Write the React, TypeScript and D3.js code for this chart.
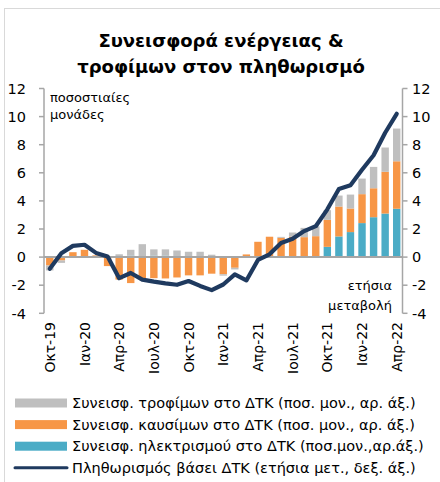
import React from "react";
import * as d3 from "d3";

const months = [
  "Οκτ-19","Νοε-19","Δεκ-19","Ιαν-20","Φεβ-20","Μαρ-20","Απρ-20","Μαϊ-20","Ιουν-20","Ιουλ-20","Αυγ-20","Σεπ-20",
  "Οκτ-20","Νοε-20","Δεκ-20","Ιαν-21","Φεβ-21","Μαρ-21","Απρ-21","Μαϊ-21","Ιουν-21","Ιουλ-21","Αυγ-21","Σεπ-21",
  "Οκτ-21","Νοε-21","Δεκ-21","Ιαν-22","Φεβ-22","Μαρ-22","Απρ-22",
];
const electricity = [0,0,0,0,0,0,0,0.1,0.07,0.1,0.1,0,0,0,0,0,0,0,0,0,0,0,0,0,0.73,1.47,1.78,2.42,2.84,3.1,3.44];
const fuels = [-0.6,-0.24,0.35,0.52,0.12,-0.64,-1.6,-1.85,-1.5,-1.5,-1.52,-1.45,-1.3,-1.3,-1.18,-1.22,-0.76,0.19,1.09,1.45,1.37,1.45,1.42,1.49,1.92,2.13,1.68,2.06,2.06,2.97,3.38];
const food = [-0.35,-0.17,0,0,0,0,0.2,0.42,0.85,0.45,0.45,0.47,0.38,0.38,0.17,-0.1,-0.12,0,0,0,0.07,0.3,0.66,0.7,0.69,0.78,0.99,1.11,1.52,1.73,2.33];
const inflation = [-0.83,0.28,0.8,0.88,0.3,0.05,-1.5,-1.13,-1.6,-1.75,-1.87,-1.97,-1.7,-2.05,-2.35,-1.95,-1.23,-1.66,-0.2,0.2,1.0,1.3,1.85,2.2,3.4,4.85,5.12,6.22,7.25,8.85,10.2];
const yTicks = [-4,-2,0,2,4,6,8,10,12];
const labelEvery = 3;

const seriesKeys = ["electricity","fuels","food"];
const seriesColors: Record<string,string> = { electricity: "#4BACC6", fuels: "#F79646", food: "#BFBFBF" };
const legendItems = [
  { label: "Συνεισφ. τροφίμων στο ΔΤΚ (ποσ. μον., αρ. άξ.)", color: "#BFBFBF", type: "rect" },
  { label: "Συνεισφ. καυσίμων στο ΔΤΚ (ποσ. μον., αρ. άξ.)", color: "#F79646", type: "rect" },
  { label: "Συνεισφ. ηλεκτρισμού στο ΔΤΚ (ποσ.μον.,αρ.άξ.)", color: "#4BACC6", type: "rect" },
  { label: "Πληθωρισμός βάσει ΔΤΚ (ετήσια μετ., δεξ. άξ.)", color: "#1F3A5F", type: "line" },
];

const FONT = "'DejaVu Sans', Verdana, sans-serif";
const LINE_COLOR = "#1F3A5F";
const AXIS_COLOR = "#A6A6A6";

export default function App() {
  const W = 440, H = 482;
  const left = 44, right = 402.5, top = 88.5, bottom = 313.3;

  const rows = months.map((m, i) => ({ month: m, electricity: electricity[i], fuels: fuels[i], food: food[i] }));
  const x = d3.scaleBand<string>().domain(months).range([left, right]).paddingInner(0.36).paddingOuter(0.18);
  const y = d3.scaleLinear().domain([-4, 12]).range([bottom, top]);
  const stack = d3.stack<any>().keys(seriesKeys).offset(d3.stackOffsetDiverging);
  const stacked = stack(rows);
  const cx = (m: string) => (x(m) as number) + x.bandwidth() / 2;
  const line = d3.line<number>().x((_, i) => cx(months[i])).y((v) => y(v));

  return (
    <svg width={W} height={H} style={{ position: "absolute", left: 0, top: 0, background: "#fff" }} fontFamily={FONT}>
      <rect x={4.5} y={8.5} width={W + 10} height={H + 10} fill="#fff" stroke="#D9D9D9" />
      <text x={221} y={47} textAnchor="middle" fontSize={18} fontWeight="bold" fill="#000">Συνεισφορά ενέργειας &amp;</text>
      <text x={221} y={73} textAnchor="middle" fontSize={18} fontWeight="bold" fill="#000">τροφίμων στον πληθωρισμό</text>

      {/* left axis */}
      <line x1={left} x2={left} y1={y(12)} y2={y(-4)} stroke={AXIS_COLOR} strokeWidth={1.5} />
      {yTicks.map((t) => (
        <g key={"l" + t}>
          <line x1={left - 5} x2={left} y1={y(t)} y2={y(t)} stroke={AXIS_COLOR} strokeWidth={1.5} />
          <text x={26} y={y(t)} dy="0.36em" textAnchor="end" fontSize={14.5} fill="#000">{t}</text>
        </g>
      ))}
      {/* right axis */}
      <line x1={right} x2={right} y1={y(12)} y2={y(-4)} stroke={AXIS_COLOR} strokeWidth={1.5} />
      {yTicks.map((t) => (
        <g key={"r" + t}>
          <line x1={right} x2={right + 5} y1={y(t)} y2={y(t)} stroke={AXIS_COLOR} strokeWidth={1.5} />
          <text x={412} y={y(t)} dy="0.36em" textAnchor="start" fontSize={14.5} fill="#000">{t}</text>
        </g>
      ))}

      {/* bars */}
      {stacked.map((s) => (
        <g key={s.key} fill={seriesColors[s.key]}>
          {s.map((d, i) => {
            const y0 = y(d[0]), y1 = y(d[1]);
            const h = Math.abs(y0 - y1);
            if (h < 0.01) return null;
            return <rect key={i} x={x(months[i])} y={Math.min(y0, y1)} width={x.bandwidth()} height={h} />;
          })}
        </g>
      ))}

      {/* zero line */}
      <line x1={left} x2={right} y1={y(0)} y2={y(0)} stroke={AXIS_COLOR} strokeWidth={2} />

      {/* inflation line */}
      <path d={line(inflation) || ""} fill="none" stroke={LINE_COLOR} strokeWidth={4.2} strokeLinejoin="round" strokeLinecap="round" />

      {/* inner notes */}
      <text x={50} y={102} fontSize={13} fill="#000">ποσοστιαίες</text>
      <text x={50} y={119} fontSize={13} fill="#000">μονάδες</text>
      <text x={392} y={290} textAnchor="end" fontSize={13} fill="#000">ετήσια</text>
      <text x={392} y={310} textAnchor="end" fontSize={13} fill="#000">μεταβολή</text>

      {/* x labels */}
      {months.map((m, i) => i % labelEvery === 0 ? (
        <text key={m} transform={`translate(${cx(m)},322) rotate(-90)`} textAnchor="end" dy="0.36em" fontSize={14} fill="#000">{m}</text>
      ) : null)}

      {/* legend */}
      {legendItems.map((it, i) => {
        const yc = 403 + i * 21.6;
        return (
          <g key={it.label}>
            {it.type === "rect"
              ? <rect x={15} y={yc - 4.5} width={52} height={9} fill={it.color} />
              : <line x1={15} x2={67} y1={yc} y2={yc} stroke={it.color} strokeWidth={3} strokeLinecap="round" />}
            <text x={72} y={yc} dy="0.36em" fontSize={14.5} fill="#000">{it.label}</text>
          </g>
        );
      })}
    </svg>
  );
}
